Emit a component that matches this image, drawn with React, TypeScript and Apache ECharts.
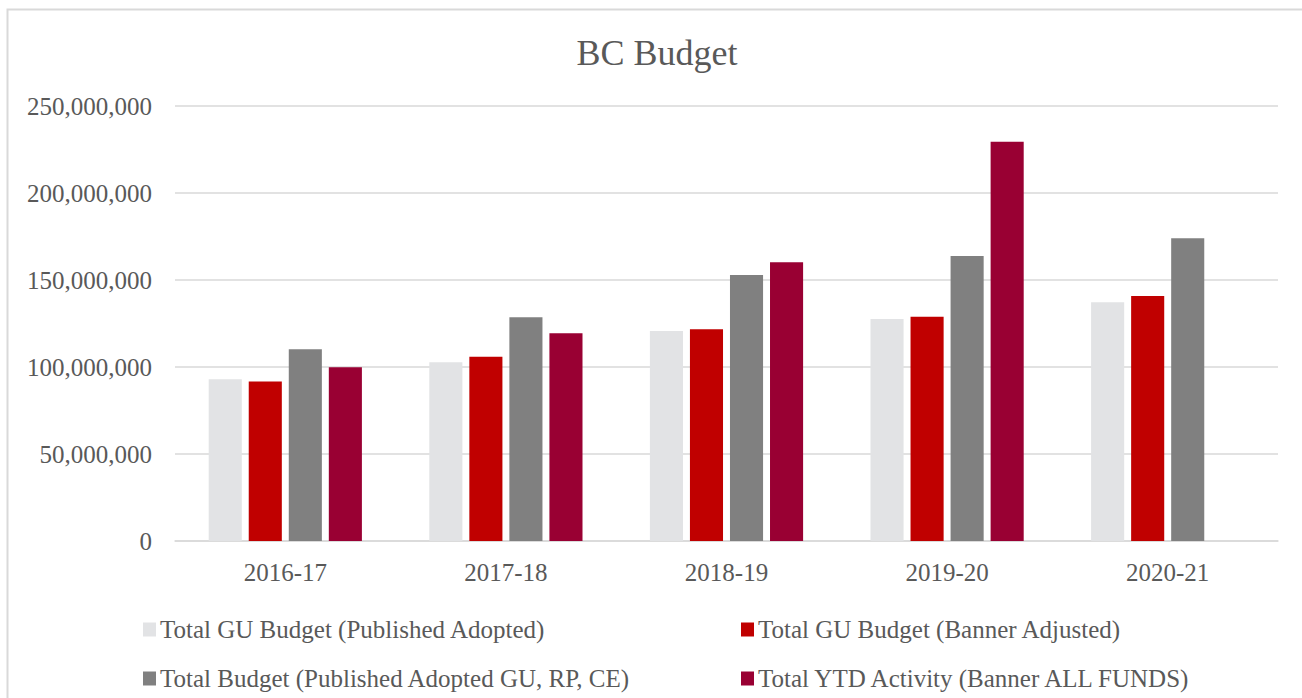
import React, { useEffect, useRef } from "react";
import * as echarts from "echarts";

const categories = ["2016-17", "2017-18", "2018-19", "2019-20", "2020-21"];
const publishedAdopted = [92900000, 102700000, 120700000, 127600000, 137200000];
const bannerAdjusted = [91600000, 105900000, 121700000, 128900000, 140800000];
const totalBudget = [110200000, 128600000, 152900000, 163800000, 174000000];
const ytdActivity = [99800000, 119400000, 160200000, 229500000, null];
const seriesNames = [
  "Total GU Budget (Published Adopted)",
  "Total GU Budget (Banner Adjusted)",
  "Total Budget (Published Adopted GU, RP, CE)",
  "Total YTD Activity (Banner ALL FUNDS)",
];
const colors = ["#E2E3E5", "#C00000", "#808080", "#990033"];

const FONT = "'Liberation Serif', 'DejaVu Serif', serif";
const TEXT = "#595959";

export default function App() {
  const ref = useRef<HTMLDivElement>(null);
  useEffect(() => {
    if (!ref.current) return;
    const chart = echarts.init(ref.current, undefined, { renderer: "svg" });
    const data = [publishedAdopted, bannerAdjusted, totalBudget, ytdActivity];
    const legendPos = [
      { left: 143, top: 617 },
      { left: 741, top: 617 },
      { left: 143, top: 666 },
      { left: 741, top: 666 },
    ];
    chart.setOption({
      animation: false,
      backgroundColor: "#ffffff",
      textStyle: { fontFamily: FONT },
      title: {
        text: "BC Budget",
        left: 652,
        textAlign: "center",
        top: 30,
        textStyle: { fontFamily: FONT, fontSize: 36, fontWeight: "normal", color: TEXT },
      },
      graphic: [
        {
          type: "rect",
          shape: { x: 7.5, y: 9.5, width: 1400, height: 800 },
          style: { fill: "none", stroke: "#D9D9D9", lineWidth: 2 },
          silent: true,
        },
      ],
      legend: seriesNames.map((n, i) => ({
        data: [n],
        left: legendPos[i].left,
        top: legendPos[i].top,
        icon: "rect",
        itemWidth: 13,
        itemHeight: 14,
        itemGap: 6,
        textStyle: { fontFamily: FONT, fontSize: 25, color: TEXT, padding: [0, 0, 0, -1] },
        padding: 0,
      })),
      grid: { left: 175, right: 24, top: 106, bottom: 157, containLabel: false },
      xAxis: {
        type: "category",
        data: categories,
        axisTick: { show: false },
        axisLine: { lineStyle: { color: "#D9D9D9", width: 1.5 } },
        axisLabel: { fontFamily: FONT, fontSize: 25, color: TEXT, margin: 19 },
      },
      yAxis: {
        type: "value",
        min: 0,
        max: 250000000,
        interval: 50000000,
        axisLine: { show: false },
        axisTick: { show: false },
        splitLine: { lineStyle: { color: "#D9D9D9", width: 1.5 } },
        axisLabel: {
          fontFamily: FONT,
          fontSize: 25,
          color: TEXT,
          margin: 23,
          formatter: (v: number) => v.toLocaleString("en-US"),
        },
      },
      series: seriesNames.map((n, i) => ({
        name: n,
        type: "bar",
        data: data[i],
        barWidth: "15%",
        barGap: "21%",
        itemStyle: { color: colors[i] },
      })),
    });
    return () => chart.dispose();
  }, []);
  return (
    <div
      ref={ref}
      style={{ position: "absolute", left: 0, top: 0, width: 1302, height: 698 }}
    />
  );
}
